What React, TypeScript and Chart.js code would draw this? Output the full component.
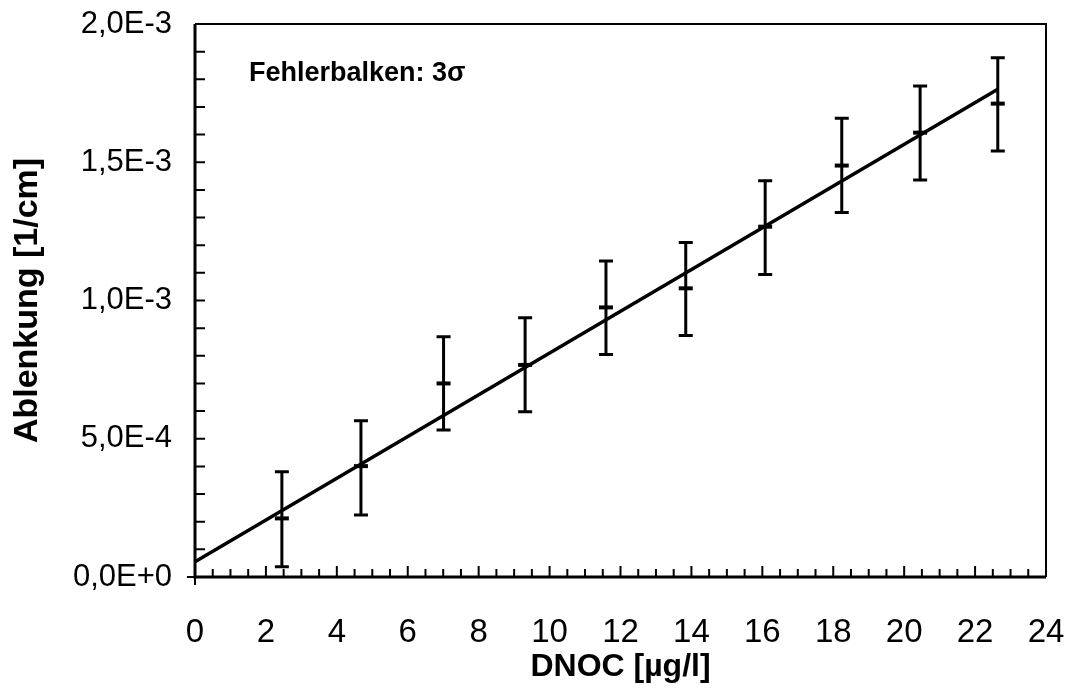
import { useEffect, useRef } from 'react';
import { Chart, registerables } from 'chart.js';

Chart.register(...registerables);

// concentration of the standards [µg/l]
const concentrations = [2.45, 4.68, 7.01, 9.31, 11.59, 13.84, 16.08, 18.24, 20.45, 22.64];
// measured deflection [1/cm]
const deflection = [2.12e-4, 4.01e-4, 7.0e-4, 7.67e-4, 9.75e-4, 1.044e-3, 1.267e-3, 1.488e-3, 1.607e-3, 1.712e-3];
// 3 sigma error bar ends
const errorTop = [3.81e-4, 5.65e-4, 8.69e-4, 9.38e-4, 1.143e-3, 1.21e-3, 1.433e-3, 1.659e-3, 1.776e-3, 1.878e-3];
const errorBottom = [0.37e-4, 2.24e-4, 5.32e-4, 5.98e-4, 8.05e-4, 8.73e-4, 1.094e-3, 1.318e-3, 1.436e-3, 1.541e-3];

// regression line end points
const fitX = [0, 22.64];
const fitY = [0.55e-4, 1.764e-3];

const xTickLabels = ['0', '2', '4', '6', '8', '10', '12', '14', '16', '18', '20', '22', '24'];
const yTickLabels = ['0,0E+0', '5,0E-4', '1,0E-3', '1,5E-3', '2,0E-3'];

const FONT = "'Liberation Sans', Arial, sans-serif";

// error bars, tick marks and the frame
const framePlugin = {
  id: 'frame',
  afterDatasetsDraw(chart: Chart) {
    const { ctx, chartArea: a } = chart;
    const xs = chart.scales.x;
    const ys = chart.scales.y;
    ctx.save();
    ctx.strokeStyle = '#000';
    ctx.lineCap = 'butt';

    // error bars
    ctx.lineWidth = 3;
    concentrations.forEach((c, i) => {
      const px = xs.getPixelForValue(c);
      const top = ys.getPixelForValue(errorTop[i]);
      const bot = ys.getPixelForValue(errorBottom[i]);
      ctx.beginPath();
      ctx.moveTo(px, top);
      ctx.lineTo(px, bot);
      ctx.moveTo(px - 7, top);
      ctx.lineTo(px + 7, top);
      ctx.moveTo(px - 7, bot);
      ctx.lineTo(px + 7, bot);
      ctx.stroke();
    });

    // frame
    ctx.lineWidth = 2;
    ctx.beginPath();
    ctx.moveTo(a.left, a.top);
    ctx.lineTo(a.right, a.top);
    ctx.lineTo(a.right, a.bottom);
    ctx.stroke();
    ctx.lineWidth = 3;
    ctx.beginPath();
    ctx.moveTo(a.left, a.top);
    ctx.lineTo(a.left, a.bottom);
    ctx.lineTo(a.right, a.bottom);
    ctx.stroke();

    // x ticks, inward
    ctx.lineWidth = 2;
    ctx.beginPath();
    for (let v = 0.5; v < 24; v += 0.5) {
      const px = xs.getPixelForValue(v);
      const len = v % 2 === 0 ? 11 : 8;
      ctx.moveTo(px, a.bottom);
      ctx.lineTo(px, a.bottom - len);
    }
    // y ticks, inward
    for (let k = 1; k < 20; k++) {
      const py = ys.getPixelForValue(k * 1e-4);
      ctx.moveTo(a.left, py);
      ctx.lineTo(a.left + 10, py);
    }
    // little cross at the origin
    ctx.moveTo(a.left - 8, a.bottom);
    ctx.lineTo(a.left, a.bottom);
    ctx.moveTo(a.left, a.bottom);
    ctx.lineTo(a.left, a.bottom + 8);
    ctx.stroke();

    // note
    ctx.fillStyle = '#000';
    ctx.font = `bold 27px ${FONT}`;
    ctx.textBaseline = 'alphabetic';
    ctx.fillText('Fehlerbalken: 3σ', a.left + 54, a.top + 57);
    ctx.restore();
  },
};

export default function App() {
  const canvasRef = useRef<HTMLCanvasElement>(null);
  const chartRef = useRef<Chart | null>(null);

  useEffect(() => {
    if (!canvasRef.current) return;
    if (chartRef.current) chartRef.current.destroy();

    chartRef.current = new Chart(canvasRef.current, {
      type: 'scatter',
      data: {
        datasets: [
          {
            type: 'line',
            label: 'fit',
            data: fitX.map((x, i) => ({ x, y: fitY[i] })),
            borderColor: '#000',
            borderWidth: 3.5,
            pointRadius: 0,
            fill: false,
          },
          {
            label: 'DNOC',
            data: concentrations.map((x, i) => ({ x, y: deflection[i] })),
            pointStyle: 'line',
            pointRadius: 7,
            pointBorderWidth: 4,
            borderColor: '#000',
            backgroundColor: '#000',
          },
        ],
      },
      options: {
        responsive: true,
        maintainAspectRatio: false,
        animation: false,
        layout: { padding: { top: 24, right: 21, left: 0, bottom: 0 } },
        plugins: {
          legend: { display: false },
          tooltip: { enabled: false },
        },
        scales: {
          x: {
            type: 'linear',
            min: 0,
            max: 24,
            grid: { display: false, drawTicks: false },
            border: { display: false },
            ticks: {
              stepSize: 2,
              padding: 36,
              color: '#000',
              font: { family: FONT, size: 33 },
              callback: (_v, i) => xTickLabels[i],
            },
            title: {
              display: true,
              text: 'DNOC [µg/l]',
              color: '#000',
              font: { family: FONT, size: 32, weight: 'bold', lineHeight: 1.2 },
              padding: { top: 0, bottom: 10 },
            },
            afterFit: (s: any) => {
              s.height = 119;
              s.paddingLeft = 0;
              s.paddingRight = 0;
            },
          },
          y: {
            type: 'linear',
            min: 0,
            max: 2e-3,
            grid: { display: false, drawTicks: false },
            border: { display: false },
            ticks: {
              stepSize: 5e-4,
              padding: 23,
              color: '#000',
              font: { family: FONT, size: 31 },
              callback: (_v, i) => yTickLabels[i],
            },
            title: {
              display: true,
              text: 'Ablenkung [1/cm]',
              color: '#000',
              font: { family: FONT, size: 34, weight: 'bold', lineHeight: 1.2 },
              padding: { top: 7, bottom: 0 },
            },
            afterFit: (s: any) => {
              s.width = 195;
              s.paddingTop = 0;
              s.paddingBottom = 0;
            },
          },
        },
      },
      plugins: [framePlugin],
    });

    return () => {
      chartRef.current?.destroy();
      chartRef.current = null;
    };
  }, []);

  return (
    <div style={{ position: 'absolute', left: 0, top: 0, width: 1067, height: 696, background: '#fff' }}>
      <canvas ref={canvasRef}></canvas>
    </div>
  );
}
